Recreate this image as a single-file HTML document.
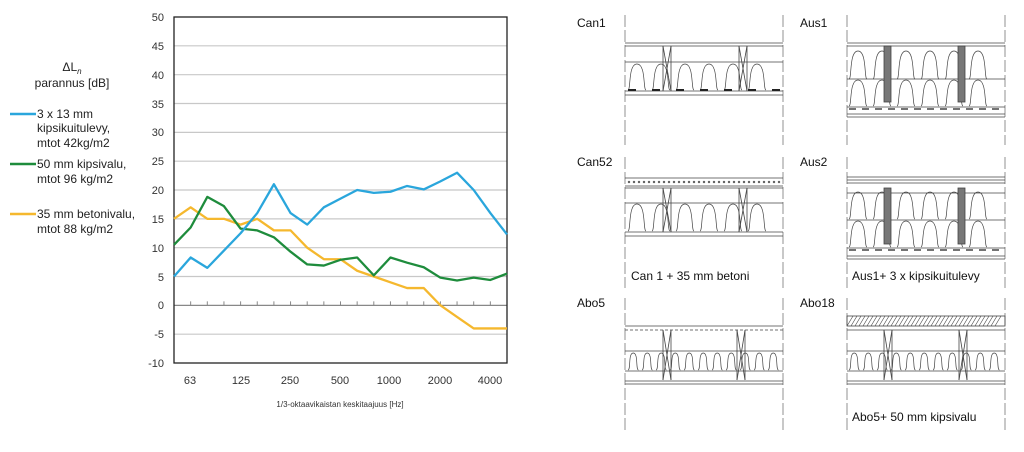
<!DOCTYPE html>
<html><head><meta charset="utf-8">
<style>
html,body{margin:0;padding:0;background:#fff;}
svg{display:block;font-family:"Liberation Sans",Arial,sans-serif;}
</style></head>
<body>
<svg id="s" width="1024" height="452" viewBox="0 0 1024 452" xmlns="http://www.w3.org/2000/svg">
<g id="grid"></g>
<rect x="174" y="17" width="333" height="346" fill="none" stroke="#222" stroke-width="1.3"/>
<g font-size="11" fill="#333" text-anchor="end">
<text x="164" y="21">50</text><text x="164" y="50">45</text><text x="164" y="79">40</text>
<text x="164" y="108">35</text><text x="164" y="136">30</text><text x="164" y="165">25</text>
<text x="164" y="194">20</text><text x="164" y="223">15</text><text x="164" y="252">10</text>
<text x="164" y="281">5</text><text x="164" y="309">0</text><text x="164" y="338">-5</text>
<text x="164" y="367">-10</text>
</g>
<g font-size="11" fill="#333" text-anchor="middle">
<text x="190" y="384">63</text><text x="241" y="384">125</text><text x="290" y="384">250</text>
<text x="340" y="384">500</text><text x="389" y="384">1000</text><text x="440" y="384">2000</text><text x="490" y="384">4000</text>
<text x="340" y="407" font-size="8">1/3-oktaavikaistan  keskitaajuus  [Hz]</text>
</g>
<g font-size="12" fill="#222">
<text x="72" y="71" text-anchor="middle">ΔL<tspan font-size="8" dy="3" font-style="italic">n</tspan></text>
<text x="72" y="87" text-anchor="middle">parannus [dB]</text>
<line x1="10" y1="114" x2="36" y2="114" stroke="#2aa6dc" stroke-width="2.5"/>
<text x="37" y="118">3 x 13 mm</text><text x="37" y="132">kipsikuitulevy,</text><text x="37" y="147">mtot 42kg/m2</text>
<line x1="10" y1="164" x2="36" y2="164" stroke="#1e8c3c" stroke-width="2.5"/>
<text x="37" y="168">50 mm kipsivalu,</text><text x="37" y="183">mtot 96 kg/m2</text>
<line x1="10" y1="214" x2="36" y2="214" stroke="#f5b82e" stroke-width="2.5"/>
<text x="37" y="218">35 mm betonivalu,</text><text x="37" y="233">mtot 88 kg/m2</text>
</g>
<g id="series"></g>
<g id="diag" stroke="#444" fill="none" stroke-width="0.8"></g>
<g font-size="12" fill="#111">
<text x="577" y="27">Can1</text><text x="800" y="27">Aus1</text>
<text x="577" y="166">Can52</text><text x="800" y="166">Aus2</text>
<text x="577" y="307">Abo5</text><text x="800" y="307">Abo18</text>
<text x="631" y="280">Can 1 + 35 mm betoni</text>
<text x="852" y="280">Aus1+ 3 x kipsikuitulevy</text>
<text x="852" y="421">Abo5+ 50 mm kipsivalu</text>
</g>
</svg>
<script>
const NS="http://www.w3.org/2000/svg";
function el(p,t,a){const e=document.createElementNS(NS,t);for(const k in a)e.setAttribute(k,a[k]);p.appendChild(e);return e;}
const Y=v=>17+(50-v)*5.767, X=i=>174+i*16.65;
const g=document.getElementById('grid');
for(let v=45;v>=-5;v-=5){el(g,'line',{x1:174,x2:507,y1:Y(v),y2:Y(v),stroke:v==0?'#888':'#c8c8c8','stroke-width':1.2});}
for(let i=1;i<20;i++)el(g,'line',{x1:X(i),x2:X(i),y1:Y(0),y2:Y(0)-4,stroke:'#888'});
const S={
'#2aa6dc':[5,8.3,6.5,9.5,12.5,16,21,16,14,17,18.5,20,19.5,19.7,20.7,20.1,21.5,23,20,16,12.3],
'#1e8c3c':[10.5,13.5,18.8,17.2,13.3,13,11.8,9.3,7.1,6.9,7.9,8.3,5.2,8.3,7.4,6.6,4.8,4.3,4.8,4.4,5.5],
'#f5b82e':[15,17,15,15,14,15,13,13,10,8,8,6,5,4,3,3,0,-2,-4,-4,-4]};
const sg=document.getElementById('series');
for(const c of ['#f5b82e','#1e8c3c','#2aa6dc'])el(sg,'polyline',{points:S[c].map((v,i)=>X(i)+','+Y(v)).join(' '),fill:'none',stroke:c,'stroke-width':2.3,'stroke-linejoin':'round'});
const d=document.getElementById('diag');
function L(x1,y1,x2,y2,extra){el(d,'line',Object.assign({x1,y1,x2,y2},extra||{}));}
function dashV(x,y1,y2){L(x,y1,x,y2,{'stroke-dasharray':'12,3','stroke':'#777'});}
function bumps(x0,x1,yt,yb,step){let p='';for(let x=x0;x+step*0.75<=x1;x+=step){const w=step*0.75;p+=`M${x},${yb} C${x+3},${yb} ${x},${yt} ${x+w/2},${yt} C${x+w},${yt} ${x+w-3},${yb} ${x+w},${yb} `;}el(d,'path',{d:p,'stroke-width':0.7});}
function studX(x,y1,y2,w){L(x,y1,x,y2);L(x+w,y1,x+w,y2);L(x,y1,x+w,y2);L(x+w,y1,x,y2);}
function dark(x,y1,y2){el(d,'rect',{x:x,y:y1,width:7,height:y2-y1,fill:'#777',stroke:'#444'});}
// Can1
[625,783].forEach(x=>dashV(x,15,145));
[43,46,62,91,95].forEach(y=>L(625,y,783,y));
bumps(628,783,64,90,24);studX(663,46,91,8);studX(739,46,91,8);
for(let x=628;x<780;x+=24)L(x,90,x+8,90,{'stroke-width':2,stroke:'#222'});
// Aus1
[847,1005].forEach(x=>dashV(x,15,145));
[43,46,79,107,114,117].forEach(y=>L(847,y,1005,y));
bumps(849,1005,51,79,24);bumps(849,1005,80,106,24);dark(884,46,102);dark(958,46,102);
for(let x=849;x<1000;x+=13)L(x,109,x+7,109,{'stroke-width':1.5});
// Can52
[625,783].forEach(x=>dashV(x,157,288));
[178,186,188,203,232,236].forEach(y=>L(625,y,783,y));
for(let x=629;x<782;x+=5)el(d,'circle',{cx:x,cy:182,r:1,fill:'#666','stroke-width':0.4});
bumps(628,783,204,231,24);studX(663,188,232,8);studX(739,188,232,8);
// Aus2
[847,1005].forEach(x=>dashV(x,157,288));
[177,180,183,193,220,248,256,259].forEach(y=>L(847,y,1005,y));
bumps(849,1005,192,219,24);bumps(849,1005,221,247,24);dark(884,188,244);dark(958,188,244);
for(let x=849;x<1000;x+=13)L(x,250,x+7,250,{'stroke-width':1.5});
// Abo5
[625,783].forEach(x=>dashV(x,298,430));
[326,351,371,381,384].forEach(y=>L(625,y,783,y));L(625,330,783,330,{'stroke-dasharray':'3,2'});
bumps(628,783,353,370,14);studX(663,330,380,8);studX(737,330,380,8);
// Abo18
[847,1005].forEach(x=>dashV(x,298,430));
el(d,'rect',{x:847,y:316,width:158,height:10,fill:'none'});
for(let x=847;x<999;x+=4)L(x,326,x+6,316,{'stroke-width':0.6});
[330,351,371,381,384].forEach(y=>L(847,y,1005,y));
bumps(849,1005,353,370,14);studX(884,330,380,8);studX(959,330,380,8);
</script>
</body></html>
